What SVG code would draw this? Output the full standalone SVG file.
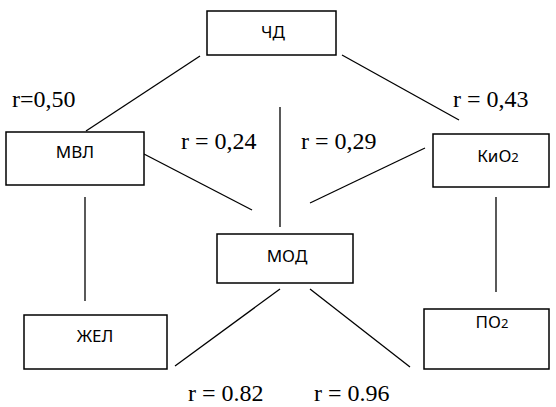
<svg xmlns="http://www.w3.org/2000/svg" width="556" height="407" viewBox="0 0 556 407">
<style>
.box{fill:#fff;stroke:#000;stroke-width:1.5}
.lbl{font-family:"Noto Sans","DejaVu Sans",sans-serif;font-size:17px;text-anchor:middle;fill:#000}
.r{font-family:"Liberation Serif","Times New Roman",serif;font-size:24px;fill:#000}
.ln{stroke:#000;stroke-width:1.3;fill:none}
</style>
<rect width="556" height="407" fill="#fff"/>
<g id="connectors">
<line class="ln" x1="200" y1="56" x2="86" y2="131"/>
<line class="ln" x1="342" y1="55" x2="459" y2="120"/>
<line class="ln" x1="280" y1="107" x2="280" y2="227"/>
<line class="ln" x1="144" y1="154" x2="252" y2="210"/>
<line class="ln" x1="425" y1="148" x2="310" y2="203"/>
<line class="ln" x1="85" y1="197" x2="85" y2="301"/>
<line class="ln" x1="496" y1="197" x2="496" y2="292"/>
<line class="ln" x1="280" y1="289" x2="175" y2="366"/>
<line class="ln" x1="310" y1="289" x2="410" y2="367"/>
</g>
<g id="labels">
<text class="r" x="12" y="107">r=0,50</text>
<text class="r" x="453" y="107">r = 0,43</text>
<text class="r" x="181" y="149">r = 0,24</text>
<text class="r" x="301" y="149">r = 0,29</text>
<text class="r" x="188" y="401">r = 0.82</text>
<text class="r" x="314" y="401">r = 0.96</text>
</g>
<g id="node-ChD">
<rect class="box" x="207" y="11" width="129" height="44"/>
<text class="lbl" x="273" y="38">ЧД</text>
</g>
<g id="node-MVL">
<rect class="box" x="6" y="132" width="138" height="53"/>
<text class="lbl" x="75" y="158">МВЛ</text>
</g>
<g id="node-KiO2">
<rect class="box" x="433" y="134" width="116" height="53"/>
<text class="lbl" x="498" y="162">КиО<tspan font-size="13">2</tspan></text>
</g>
<g id="node-MOD">
<rect class="box" x="217" y="234" width="136" height="49"/>
<text class="lbl" x="287" y="262">МОД</text>
</g>
<g id="node-ZhEL">
<rect class="box" x="24" y="315" width="143" height="54"/>
<text class="lbl" x="95" y="342">ЖЕЛ</text>
</g>
<g id="node-PO2">
<rect class="box" x="424" y="309" width="125" height="60"/>
<text class="lbl" x="492" y="328">ПО<tspan font-size="13">2</tspan></text>
</g>
</svg>
